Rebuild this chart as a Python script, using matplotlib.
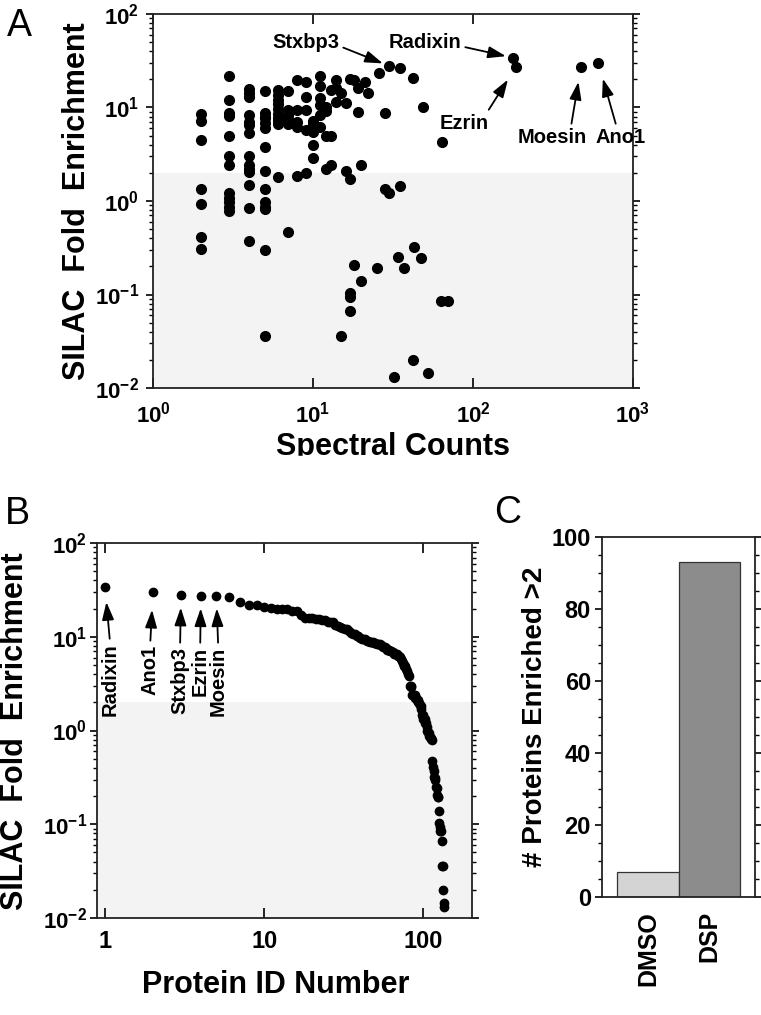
import numpy as np
import matplotlib
matplotlib.use('Agg')
import matplotlib.pyplot as plt
from matplotlib.patches import Rectangle
from matplotlib.ticker import LogLocator, NullLocator, NullFormatter, MultipleLocator

plt.rcParams['font.family'] = ['Liberation Sans', 'DejaVu Sans']
plt.rcParams['mathtext.fontset'] = 'custom'
plt.rcParams['mathtext.rm'] = 'Liberation Sans:bold'
plt.rcParams['mathtext.bf'] = 'Liberation Sans:bold'

# Named proteins (spectral counts, SILAC fold enrichment)
named_proteins = ['Radixin', 'Ano1', 'Stxbp3', 'Ezrin', 'Moesin']
named_counts = np.array([177, 607, 30, 186, 473])
named_enrich = np.array([34.1, 30.2, 27.8, 27.3, 27.3])

# All other proteins
other_counts = np.array([
    2, 2, 2, 2, 2, 2, 2,
    3, 3, 3, 3, 3, 3, 3, 3, 3, 3, 3, 3,
    4, 4, 4, 4, 4, 4, 4, 4, 4, 4, 4, 4, 4, 4,
    5, 5, 5, 5, 5, 5, 5, 5, 5, 5, 5, 5, 5, 5,
    6, 6, 6, 6, 6, 6, 6, 6, 6, 6,
    7, 7, 7, 7, 7, 7,
    8, 8, 8, 8, 8,
    9, 9, 9, 9, 9,
    10, 10, 10, 10, 10,
    11, 11, 11, 11, 11, 11,
    12, 12, 12, 12,
    13, 13, 13,
    14, 14, 14,
    15, 15,
    16, 16,
    17, 17, 17, 17, 17,
    18, 18,
    19, 19,
    20, 20,
    21, 22, 25, 26,
    28, 28, 30, 32, 34, 35, 35, 37,
    42, 42, 43, 47, 49, 52, 63, 64, 70])
other_enrich = np.array([
    8.5, 7.2, 4.5, 1.33, 0.93, 0.41, 0.31,
    21.8, 12.0, 8.7, 8.2, 4.9, 3.0, 2.4, 1.21, 1.09, 0.98, 0.87, 0.79,
    15.8, 14.3, 12.8, 8.4, 7.0, 6.5, 5.3, 3.0, 2.4, 2.2, 2.02, 1.48, 0.84, 0.37,
    15.0, 8.8, 8.0, 7.7, 6.9, 6.1, 3.8, 2.1, 1.33, 0.97, 0.86, 0.82, 0.30, 0.036,
    15.4, 13.5, 12.0, 10.8, 9.6, 8.5, 7.8, 7.2, 6.6, 1.82,
    15.0, 9.4, 8.3, 7.5, 6.6, 0.47,
    19.7, 9.4, 7.0, 6.2, 1.85,
    18.9, 13.1, 9.4, 5.8, 1.98,
    7.2, 6.6, 5.5, 4.0, 2.9,
    21.9, 16.9, 12.5, 10.6, 8.3, 6.2,
    10.2, 9.1, 5.0, 2.2,
    15.4, 4.9, 2.4,
    19.7, 16.0, 11.5,
    14.2, 0.036,
    11.1, 2.1,
    20.2, 1.7, 0.103, 0.093, 0.067,
    19.7, 0.207,
    16.0, 8.9,
    2.4, 0.139,
    18.9, 14.2, 0.194, 23.6,
    8.8, 1.33, 1.21, 0.0131, 0.25, 26.3, 1.46, 0.194,
    20.8, 0.020, 0.32, 0.245, 10.2, 0.0146, 0.085, 4.3, 0.085])

spectral_counts = np.concatenate([named_counts, other_counts])
fold_enrich = np.concatenate([named_enrich, other_enrich])

# Panel C
groups = ['DMSO', 'DSP']
n_enriched = [7, 93]

threshold = 2.0

W, H = 761, 1015
fig = plt.figure(figsize=(W / 100, H / 100), dpi=100)


def box(l, t, r, b):
    # pixel box -> figure fraction
    return [l / W, 1 - b / H, (r - l) / W, (b - t) / H]


def dec(e):
    return r'$\mathbf{10^{%d}}$' % e


def style_spines(ax):
    for s in ax.spines.values():
        s.set_linewidth(1.3)
        s.set_color('#222222')


def log_y(ax):
    ax.set_yscale('log')
    ax.set_ylim(0.01, 100)
    ax.set_yticks([10.0**e for e in range(-2, 3)], [dec(e) for e in range(-2, 3)])
    ax.yaxis.set_minor_locator(LogLocator(base=10, subs=np.arange(2, 10)))
    ax.yaxis.set_minor_formatter(NullFormatter())
    ax.tick_params(axis='y', which='major', direction='out', left=True, right=True,
                   length=5, width=1.2, labelsize=16)
    ax.tick_params(axis='y', which='minor', direction='out', left=True, right=True,
                   length=3, width=1.0)


arrow = dict(arrowstyle='-|>,head_length=0.6,head_width=0.2', color='black',
             lw=1.3, mutation_scale=18)

# ---------------- Panel A ----------------
axA = fig.add_axes(box(153, 14, 633, 388))
axA.axhspan(0.01, threshold, color='#f3f3f3', lw=0, zorder=0)
axA.plot(spectral_counts, fold_enrich, 'o', color='black', ms=7, zorder=3)
axA.set_xscale('log')
axA.set_xlim(1, 1000)
log_y(axA)
axA.set_xticks([10.0**e for e in range(0, 4)], [dec(e) for e in range(0, 4)])
axA.xaxis.set_minor_locator(NullLocator())
axA.tick_params(axis='x', which='major', direction='in', top=True, length=7,
                width=1.2, labelsize=16, pad=10)
axA.tick_params(axis='y', which='major', pad=5)
style_spines(axA)

# text centre (data), arrow start on text box, shrink at point (pt)
a_labels = {
    'Stxbp3': ((9.0, 49.0), (1.03, 0.3), 5),
    'Radixin': ((50.0, 49.0), (1.03, 0.3), 5),
    'Ezrin': ((88.0, 6.8), (0.95, 1.0), 11),
    'Moesin': ((312.0, 4.8), (0.77, 1.0), 11),
    'Ano1': ((840.0, 4.8), (0.42, 1.0), 12),
}
for name, cnt, val in zip(named_proteins, named_counts, named_enrich):
    pos, rel, shrink = a_labels[name]
    axA.annotate(name, xy=(cnt, val), xytext=pos, textcoords='data',
                 ha='center', va='center', fontsize=14.5, fontweight='bold',
                 annotation_clip=False,
                 arrowprops=dict(arrow, relpos=rel, shrinkA=1, shrinkB=shrink))

fig.text(77 / W, 1 - 201 / H, 'SILAC  Fold  Enrichment', rotation=90,
         ha='center', va='center', fontsize=22, fontweight='bold')
fig.text(393 / W, 1 - 432 / H, 'Spectral Counts', ha='center', va='top',
         fontsize=22, fontweight='bold')
# the lower part of this label is cut off in the original figure
fig.patches.append(Rectangle((240 / W, 1 - 475 / H), 310 / W, 19 / H,
                             transform=fig.transFigure, color='white', zorder=10))

# ---------------- Panel B ----------------
order = np.argsort(-fold_enrich, kind='stable')
ranked = fold_enrich[order]
rank = np.arange(1, len(ranked) + 1)

axB = fig.add_axes(box(97, 543, 472, 918))
axB.axhspan(0.01, threshold, color='#f3f3f3', lw=0, zorder=0)
axB.plot(rank, ranked, 'o', color='black', ms=6, zorder=3)
axB.set_xscale('log')
axB.set_xlim(0.89, 202)
log_y(axB)
axB.set_xticks([1, 10, 100], ['1', '10', '100'])
axB.xaxis.set_minor_locator(NullLocator())
axB.tick_params(axis='x', which='major', direction='in', top=True, length=7,
                width=1.2, labelsize=17, pad=9)
axB.tick_params(axis='y', which='major', pad=2)
for lab in axB.get_xticklabels():
    lab.set_fontweight('bold')
style_spines(axB)

b_labels = {
    'Radixin': ((1.075, 8.6), 11),
    'Ano1': ((1.92, 8.2), 13),
    'Stxbp3': ((2.96, 7.8), 9),
    'Ezrin': ((3.96, 7.8), 9),
    'Moesin': ((5.14, 7.8), 9),
}
for i, name in enumerate(named_proteins):
    pos, shrink = b_labels[name]
    axB.annotate(name, xy=(rank[i], ranked[i]), xytext=pos, textcoords='data',
                 ha='center', va='top', rotation=90, fontsize=14.5, fontweight='bold',
                 arrowprops=dict(arrow, relpos=(0.5, 1.0), shrinkA=1, shrinkB=shrink))

fig.text(15 / W, 1 - 731 / H, 'SILAC  Fold  Enrichment', rotation=90,
         ha='center', va='center', fontsize=22, fontweight='bold')
fig.text(276 / W, 1 - 985 / H, 'Protein ID Number', ha='center', va='center',
         fontsize=22, fontweight='bold')

# ---------------- Panel C ----------------
axC = fig.add_axes(box(602, 537, 755, 897))
axC.bar(np.arange(len(groups)), n_enriched, width=1.0,
        color=['#d4d4d4', '#8c8c8c'], edgecolor='#333333', linewidth=0.9)
axC.set_xlim(-0.75, 1.75)
axC.set_ylim(0, 100)
axC.yaxis.set_major_locator(MultipleLocator(20))
axC.yaxis.set_minor_locator(MultipleLocator(5))
axC.tick_params(axis='y', which='major', direction='out', left=True, right=True,
                length=5, width=1.2, labelsize=17, pad=3)
axC.tick_params(axis='y', which='minor', direction='out', left=True, right=True,
                length=3, width=1.0)
axC.set_xticks(np.arange(len(groups)), groups, rotation=90)
axC.tick_params(axis='x', length=0, labelsize=18, pad=10)
for lab in axC.get_xticklabels() + axC.get_yticklabels():
    lab.set_fontweight('bold')
style_spines(axC)
fig.text(535 / W, 1 - 717 / H, '# Proteins Enriched >2', rotation=90,
         ha='center', va='center', fontsize=20, fontweight='bold')

# panel letters
for letter, (px, py) in zip('ABC', [(19, 26), (17, 514), (508, 513)]):
    fig.text(px / W, 1 - py / H, letter, ha='center', va='center', fontsize=27)

fig.savefig('out.png', dpi=100)
